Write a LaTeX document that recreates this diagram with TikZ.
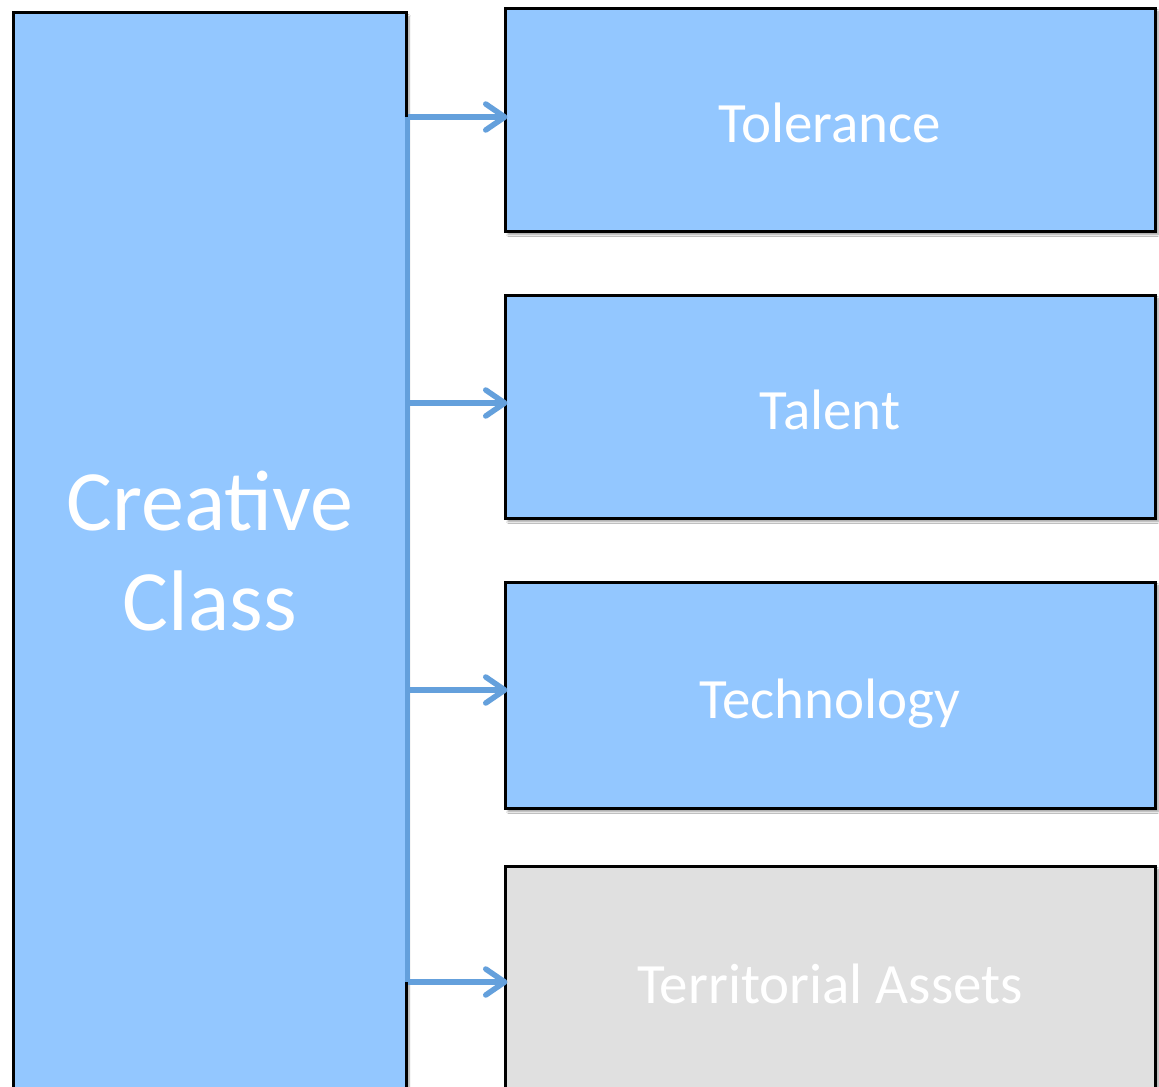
\documentclass[tikz,border=0pt]{standalone}
\usepackage{fontspec}
\setmainfont{Carlito}
\usetikzlibrary{arrows.meta,shadows.blur}
\definecolor{boxblue}{RGB}{147,199,255}
\definecolor{boxgray}{RGB}{224,224,224}
\definecolor{linkblue}{RGB}{100,160,220}
\tikzset{
  card/.style={draw=black, line width=3bp, fill=boxblue, text=white,
    inner sep=0pt, align=center,
    blur shadow={shadow xshift=3bp, shadow yshift=-3.5bp, shadow blur steps=6, shadow opacity=40}},
  sidecard/.style={card, minimum width=650bp, minimum height=223bp,
    font=\fontsize{57bp}{64bp}\selectfont, text height=46bp, text depth=0bp},
  link/.style={draw=linkblue, line width=5.5bp},
  tiplink/.style={link, shorten >=-4bp,
    -{Straight Barb[round, length=19bp, width=26bp, line width=5.5bp]}},
}
\begin{document}
\begin{tikzpicture}[x=1bp, y=-1bp]
\useasboundingbox (0,0) rectangle (1159,1087);
\clip (0,0) rectangle (1159,1087);
\fill[white] (0,0) rectangle (1159,1087);

% source box on the left
\node[card, minimum width=392bp, minimum height=1084bp, text depth=8bp,
      font=\fontsize{86bp}{100bp}\selectfont] (cc) at (210,555) {Creative\\Class};

% four targets on the right
\node[sidecard] (tol) at (830,119.5) {Tolerance};
\node[sidecard] (tal) at (830,406.5) {Talent};
\node[sidecard, minimum height=226bp] (tec) at (830,695) {Technology};
\node[sidecard, fill=boxgray, minimum height=238bp, text height=36bp] (ter) at (830,985) {Territorial Assets};

% branch points on the right edge of the source box
\coordinate (b1) at (cc.east |- 0,117);
\coordinate (b2) at (cc.east |- 0,403);
\coordinate (b3) at (cc.east |- 0,690);
\coordinate (b4) at (cc.east |- 0,982);

\draw[link] (b1) -- (b4);
\draw[tiplink] (b1) -- (b1 -| tol.west);
\draw[tiplink] (b2) -- (b2 -| tal.west);
\draw[tiplink] (b3) -- (b3 -| tec.west);
\draw[tiplink] (b4) -- (b4 -| ter.west);
\end{tikzpicture}
\end{document}
